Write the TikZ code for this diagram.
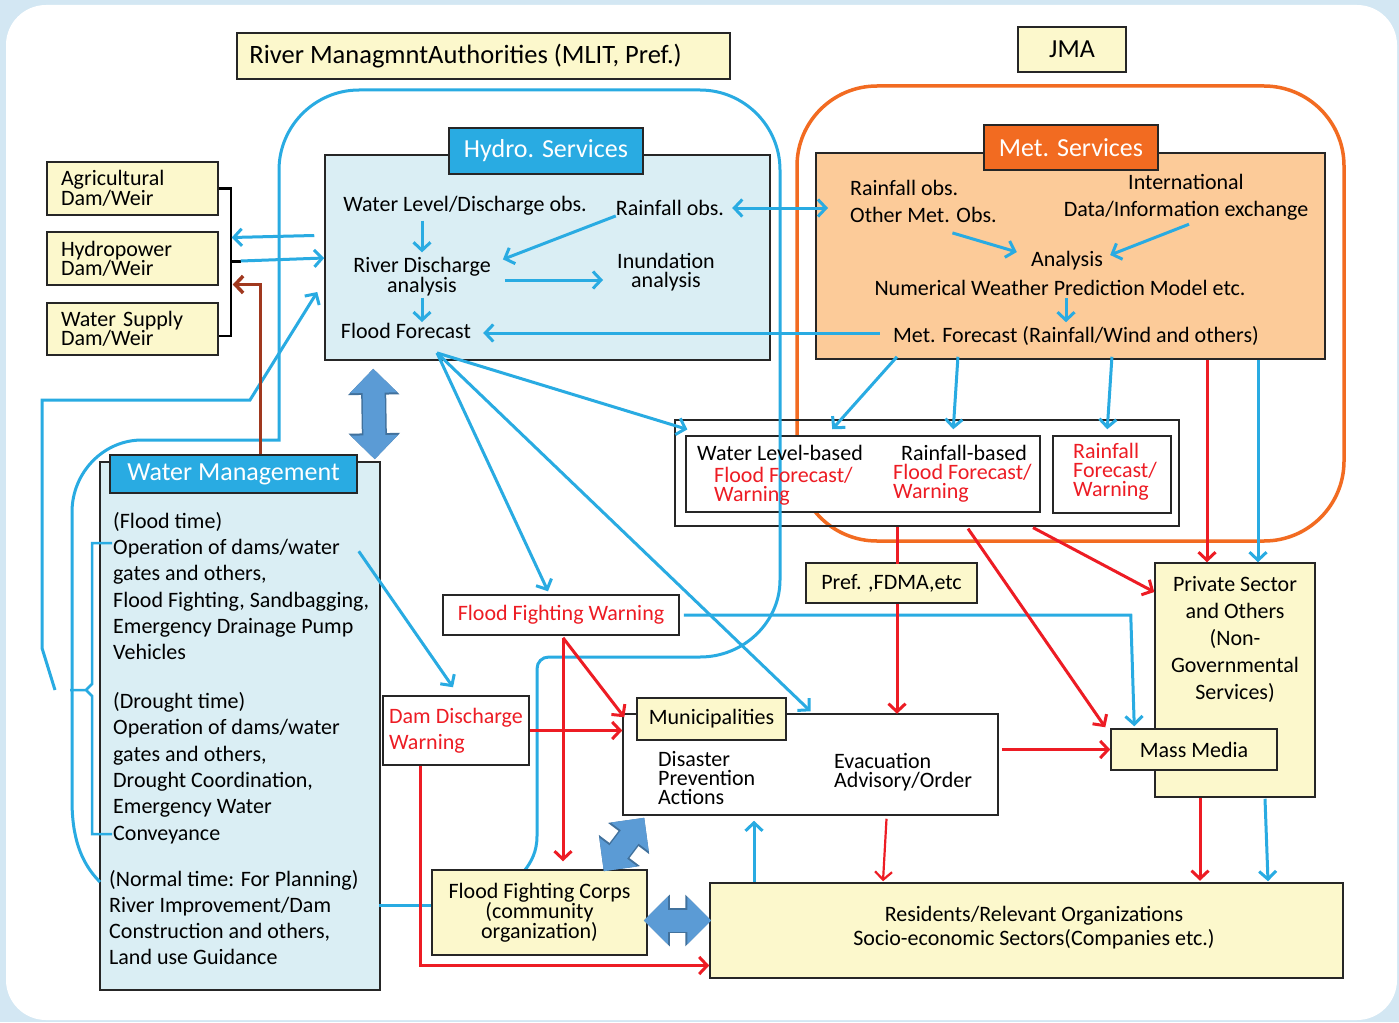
\documentclass[tikz,border=0pt]{standalone}
\usepackage{fontspec}
\setmainfont{Carlito}
\usetikzlibrary{arrows.meta,calc}
\definecolor{bgblue}{HTML}{D3E7F3}
\definecolor{cream}{HTML}{FCF8CC}
\definecolor{paleblue}{HTML}{DAEEF4}
\definecolor{skyblue}{HTML}{29ABE2}
\definecolor{steel}{HTML}{5B9BD5}
\definecolor{steeldark}{HTML}{41719C}
\definecolor{alertred}{HTML}{ED1C24}
\definecolor{metorange}{HTML}{F26B21}
\definecolor{peach}{HTML}{FCCB99}
\definecolor{rust}{HTML}{A0381E}
\tikzset{
  box/.style={draw=black!85, line width=1.5pt, inner sep=0pt, align=center, font=\fontsize{22}{19}\selectfont},
  cbox/.style={box, fill=cream},
  titlebox/.style={box, text=white, font=\fontsize{26}{30}\selectfont},
  lbl/.style={inner sep=0pt, align=center, font=\fontsize{22}{19}\selectfont},
  redlbl/.style={lbl, text=alertred, align=left, anchor=west},
  wmtext/.style={inner sep=0pt, anchor=west, align=left, font=\fontsize{22}{26.3}\selectfont},
  bl/.style={skyblue, line width=3pt},
  rd/.style={alertred, line width=3pt},
  arr/.style={-{Straight Barb[length=8pt,width=17pt]}},
  arrs/.style={{Straight Barb[length=8pt,width=17pt]}-{Straight Barb[length=8pt,width=17pt]}},
  fat/.style={steel, line width=22pt, {Triangle[length=24pt,width=46pt]}-{Triangle[length=24pt,width=46pt]},
    preaction={draw=steeldark, line width=25pt, {Triangle[length=26pt,width=50pt]}-{Triangle[length=26pt,width=50pt]}}},
}
\begin{document}
\begin{tikzpicture}[x=1pt,y=-1pt]
\useasboundingbox (0,0) rectangle (1399,1022);
\fill[bgblue] (0,0) rectangle (1399,1022);
\fill[white, rounded corners=40pt] (6,5) rectangle (1397,1020);
% agency frames
\draw[metorange, line width=3.5pt, rounded corners=80pt] (797,86) rectangle (1344,541);
\node[cbox, minimum width=493pt, minimum height=46pt] (rma) at (483.5,56) {};
\node[lbl, anchor=west, font=\fontsize{26.5}{30}\selectfont] (rmatxt) at ($(rma.west)+(13,0)$) {River ManagmntAuthorities (MLIT, Pref.)};
\node[cbox, minimum width=108pt, minimum height=45pt, font=\fontsize{26}{30}\selectfont] (jma) at (1072,49.5) {JMA};
% hydro services
\node[box, fill=paleblue, minimum width=445pt, minimum height=205pt] (hydro) at (547.5,257.5) {};
\node[titlebox, fill=skyblue, minimum width=194pt, minimum height=46pt] (hydt) at (546,151) {Hydro. Services};
\node[lbl] (wlobs) at (465,206) {Water Level/Discharge obs.};
\node[lbl] (rfobs) at (670,208) {Rainfall obs.};
\node[lbl] (rda) at (422,277) {River Discharge\\analysis};
\node[lbl] (inu) at (666,272) {Inundation\\analysis};
\node[lbl] (ffc) at (406,331) {Flood Forecast};
% met services
\node[box, fill=peach, minimum width=509pt, minimum height=206pt] (met) at (1070.5,256) {};
\node[titlebox, fill=metorange, minimum width=174pt, minimum height=45pt] (mett) at (1071,147.5) {Met. Services};
\node[lbl, anchor=west, align=left, font=\fontsize{22}{27}\selectfont] (mobs) at (850,201.5) {Rainfall obs.\\Other Met. Obs.};
\node[lbl, font=\fontsize{22}{27}\selectfont] (intl) at (1186,197) {International\\Data/Information exchange};
\node[lbl] (ana) at (1067,261) {Analysis};
\node[lbl] (nwp) at (1060,288) {Numerical Weather Prediction Model etc.};
\node[lbl] (mfc) at (1076,336) {Met. Forecast (Rainfall/Wind and others)};
% forecasts / warnings
\node[box, line width=1.2pt, minimum width=504pt, minimum height=106pt] (fcout) at (927,473) {};
\node[box, fill=white, minimum width=354pt, minimum height=76pt] (fcin1) at (863,474) {};
\node[box, fill=white, minimum width=118pt, minimum height=77pt] (fcin2) at (1112,474.5) {};
% dams
\node[cbox, minimum height=53pt, text width=143pt, inner xsep=14pt, align=left] (agr) at (132.5,188.5) {Agricultural\\Dam/Weir};
\node[cbox, minimum height=53pt, text width=143pt, inner xsep=14pt, align=left] (hyd) at (132.5,258.5) {Hydropower\\Dam/Weir};
\node[cbox, minimum height=52pt, text width=143pt, inner xsep=14pt, align=left] (ws) at (132.5,329) {Water Supply\\Dam/Weir};
\draw[black, line width=2.5pt] (agr.east) -- ++(12,0) |- ($(ws.east)+(0,7)$);
\coordinate (damjn) at ($(hyd.east)+(12,2.5)$);
\draw[black, line width=3pt] (damjn) -- ++(10,0);
% water management
\node[box, fill=paleblue, minimum width=280pt, minimum height=528pt] (wm) at (240,726) {};
\node[titlebox, fill=skyblue, minimum width=247pt, minimum height=38pt] (wmt) at (233.5,474) {Water Management};
\node[wmtext] (wmflood) at (113,586) {(Flood time)\\Operation of dams/water\\gates and others,\\Flood Fighting, Sandbagging,\\Emergency Drainage Pump\\Vehicles};
\node[wmtext] (wmdrought) at (113,768) {(Drought time)\\Operation of dams/water\\gates and others,\\Drought Coordination,\\Emergency Water\\Conveyance};
\node[wmtext] (wmnormal) at (109,917.5) {(Normal time: For Planning)\\River Improvement/Dam\\Construction and others,\\Land use Guidance};
% river authority frame
\draw[bl] (100,882) .. controls (80,862) and (72,836) .. (72,800)
  -- (72,512) .. controls (72,473) and (103,440) .. (142,440)
  -- (279,440) -- (279,170) .. controls (279,126) and (315,90) .. (359,90)
  -- (700,90) .. controls (744,90) and (780,126) .. (780,170)
  -- (780,580) .. controls (780,622) and (744,657) .. (700,657)
  -- (549,657) .. controls (542,657) and (537,662) .. (537,669)
  -- (537,836) .. controls (537,852) and (531,862) .. (525,870);
\draw[bl, line width=2.5pt] (112,543) -- (92,543) -- (92,684) -- (86,690) -- (92,696) -- (92,834) -- (112,834) (86,690) -- (70,690);
\coordinate (wmlink) at (55,690);
\draw[bl,arr] (wmlink) -- (42,648) -- (42,400) -- (250,400) -- ($(hydro.west)+(-7,34.5)$);
% forecast texts
\node[lbl] (wlb) at (780,453) {Water Level-based};
\node[redlbl] (wlbw) at (714,486.5) {Flood Forecast/\\Warning};
\node[lbl] (rfb) at (964,453) {Rainfall-based};
\node[redlbl] (rfbw) at (893,483.5) {Flood Forecast/\\Warning};
\node[redlbl] (rfw) at (1073,472) {Rainfall\\Forecast/\\Warning};
% lower boxes
\node[box, fill=white, minimum width=236pt, minimum height=40pt, text=alertred] (ffw) at (561,615) {Flood Fighting Warning};
\node[box, fill=white, minimum width=146pt, minimum height=69pt, align=left, text=alertred, font=\fontsize{22}{26}\selectfont] (ddw) at (456,730.5) {Dam Discharge\\Warning};
\node[cbox, minimum width=171pt, minimum height=40pt] (pref) at (891.5,583) {Pref. ,FDMA,etc};
\node[box, fill=white, minimum width=375pt, minimum height=101pt] (mun) at (810.5,764.5) {};
\node[cbox, minimum width=149pt, minimum height=42pt] (munt) at (711.5,719) {Municipalities};
\node[lbl, anchor=west, align=left] (dpa) at (658,778) {Disaster\\Prevention\\Actions};
\node[lbl, anchor=west, align=left] (evac) at (834,772.5) {Evacuation\\Advisory/Order};
\node[cbox, minimum width=160pt, minimum height=234pt] (priv) at (1235,680) {};
\node[lbl, font=\fontsize{22}{27}\selectfont] (privtxt) at (1235,639) {Private Sector\\and Others\\(Non-\\Governmental\\Services)};
\node[cbox, minimum width=166pt, minimum height=41pt] (mm) at (1194,749.5) {Mass Media};
\node[cbox, minimum width=633pt, minimum height=95pt] (res) at (1026.5,930.5) {};
\node[lbl, font=\fontsize{22}{24}\selectfont] (restxt) at (1034,928) {Residents/Relevant Organizations\\Socio-economic Sectors(Companies etc.)};
\node[cbox, minimum width=215pt, minimum height=85pt, font=\fontsize{22}{20}\selectfont] (ffcorps) at (539.5,912.5) {Flood Fighting Corps\\(community\\organization)};
% blue flows
\draw[bl,arr,shorten <=5pt,shorten >=5pt] (wlobs.south -| rda.north) -- (rda.north);
\draw[bl,arr,shorten <=1pt,shorten >=1pt] (rda.south) -- (ffc.north -| rda.south);
\draw[bl,arr] (rfobs.south west) -- ($(rda.north east)+(12,2)$);
\draw[bl,arr] ($(rda.east)+(14,3)$) -- ($(inu.west)+(-14,8)$);
\draw[bl,arr] ($(mfc.west)+(-13,-3)$) -- ($(ffc.east)+(12,2)$);
\draw[bl,arrs] ($(rfobs.east)+(8,0)$) -- ($(mobs.west)+(-22,6.5)$);
\draw[bl,arr] ($(mobs.south)+(29,10)$) -- ($(ana.west)+(-14,-9)$);
\draw[bl,arr] ($(intl.south)+(3,4)$) -- ($(ana.east)+(7,-6)$);
\draw[bl,arr,shorten <=2pt,shorten >=4pt] (nwp.south -| 1066,0) -- (mfc.north -| 1066,0);
\draw[bl,arr] ($(mfc.south west)+(4,11)$) -- ($(fcin1.north west)+(147,-6)$);
\draw[bl,arr] ($(mfc.south west)+(65,11)$) -- ($(fcin1.north west)+(268,-6)$);
\draw[bl,arr] ($(mfc.south west)+(219,11)$) -- ($(fcin2.north west)+(55,-6)$);
\draw[bl,arr] (met.south -| 1258,0) -- (priv.north -| 1258,0);
\coordinate (ffout) at ($(ffc.south)+(31,14)$);
\draw[bl,arr] (ffout) -- ($(fcout.north west)+(13,10)$);
\draw[bl,arr] (ffout) -- ($(ffw.north)+(-13,-3)$);
\draw[bl,arr] (ffout) -- ($(mun.north)+(0,-2)$);
\draw[bl,arr] ($(hydro.west)+(-10,-22)$) -- ($(hyd.east)+(13,-21)$);
\draw[bl,arr] ($(damjn)+(10,0)$) -- ($(hydro.west)+(0,0.5)$);
\draw[bl,arr] ($(wm.north east)+(-22,90)$) -- ($(ddw.north)+(-3,-8)$);
\draw[bl,arr] ($(ffw.east)+(4,0)$) -- ++(447,0) -- ($(mm.north west)+(24,-2)$);
\draw[bl,arr] (res.north -| 754,0) -- ($(mun.south -| 754,0)+(0,5)$);
\draw[bl,arr] ($(priv.south)+(30,1)$) -- ($(res.north)+(241.5,-1)$);
\draw[bl] ($(ffcorps.west)+(0,-7)$) -- ++(-52,0);
% red flows
\draw[rd,arr] (met.south -| 1207,0) -- (priv.north -| 1207,0);
\coordinate (ffwout) at ($(ffw.south)+(2,2)$);
\draw[rd,arr] (ffwout) -- ($(mun.north west)+(2,4)$);
\draw[rd,arr,shorten >=8pt] (ffwout) -- (ffcorps.north -| ffwout);
\draw[rd,arr] (ddw.east) -- (mun.west |- ddw.east);
\draw[rd,arr] ($(ddw.south west)+(38,0)$) |- ($(res.west)+(0,35)$);
\draw[rd] ($(fcout.south)+(-30,0)$) -- ++(0,37);
\draw[rd,arr] ($(pref.south)+(5.5,0)$) -- ++(0,110);
\draw[rd,arr] ($(fcout.south)+(41,2)$) -- ($(mm.north west)+(-5,-1)$);
\draw[rd,arr] ($(fcout.south)+(106,1)$) -- ($(priv.west)+(0,-88)$);
\draw[rd,arr] ($(mun.east)+(3,-15)$) -- (mm.west);
\draw[rd,arr] ($(priv.south)+(-35,0)$) -- ++(0,83);
\draw[rd,arr,line width=2.2pt] ($(mun.south)+(76,3)$) -- ($(res.north)+(-143.5,-1)$);
\draw[rust,arr,line width=3.5pt] ($(wmt.north west)+(151,0)$) |- ($(hyd.east)+(14,26)$);
% exchanges
\draw[fat] ($(hydro.south west)+(49,8)$) -- ($(wm.north east)+(-6,-2)$);
\draw[fat] ($(mun.south west)+(22,2)$) -- ($(ffcorps.north east)+(-44,2)$);
\draw[fat] ($(ffcorps.east)+(-4,8)$) -- ($(res.west)+(2,-10)$);
\end{tikzpicture}
\end{document}
